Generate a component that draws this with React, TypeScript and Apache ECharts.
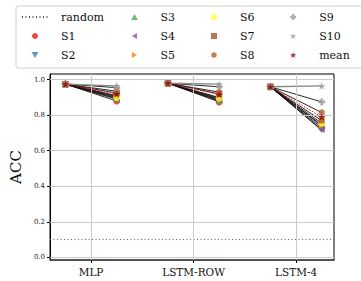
import React, { useEffect, useRef } from 'react';
import * as echarts from 'echarts';

const models = ['MLP', 'LSTM-ROW', 'LSTM-4'];
const yTicks = [0, 0.2, 0.4, 0.6, 0.8, 1.0];
const subjects = ['S1', 'S2', 'S3', 'S4', 'S5', 'S6', 'S7', 'S8', 'S9', 'S10'];
const randomLevel = 0.1;

// accuracy before (left point) per subject, per model
const accBefore = [
  [0.975, 0.98, 0.96],
  [0.976, 0.981, 0.961],
  [0.975, 0.98, 0.96],
  [0.974, 0.979, 0.959],
  [0.975, 0.98, 0.96],
  [0.976, 0.98, 0.961],
  [0.975, 0.981, 0.96],
  [0.975, 0.98, 0.96],
  [0.976, 0.98, 0.96],
  [0.975, 0.98, 0.96],
];
// accuracy after (right point) per subject, per model
const accAfter = [
  [0.88, 0.875, 0.73],
  [0.91, 0.89, 0.715],
  [0.89, 0.88, 0.74],
  [0.895, 0.885, 0.72],
  [0.905, 0.9, 0.745],
  [0.9, 0.895, 0.755],
  [0.925, 0.92, 0.77],
  [0.935, 0.93, 0.815],
  [0.955, 0.96, 0.875],
  [0.965, 0.975, 0.965],
];
const meanBefore = [0.975, 0.98, 0.96];
const meanAfter = [0.918, 0.916, 0.79];

const colors = ['#e41a1c', '#377eb8', '#4daf4a', '#984ea3', '#ff7f00', '#ffff33', '#a65628', '#b0602c', '#999999', '#999999'];
const STAR = 'path://M0,-1 L0.2245,-0.309 L0.951,-0.309 L0.363,0.118 L0.588,0.809 L0,0.382 L-0.588,0.809 L-0.363,0.118 L-0.951,-0.309 L-0.2245,-0.309 Z';
const HEX = 'path://M0,-1 L0.866,-0.5 L0.866,0.5 L0,1 L-0.866,0.5 L-0.866,-0.5 Z';
const PLUS = 'path://M-0.4,-1 L0.4,-1 L0.4,-0.4 L1,-0.4 L1,0.4 L0.4,0.4 L0.4,1 L-0.4,1 L-0.4,0.4 L-1,0.4 L-1,-0.4 L-0.4,-0.4 Z';
const TRI_UP = 'path://M0,-1 L0.866,0.5 L-0.866,0.5 Z';
const TRI_DOWN = 'path://M0,1 L0.866,-0.5 L-0.866,-0.5 Z';
const TRI_LEFT = 'path://M-1,0 L0.5,-0.866 L0.5,0.866 Z';
const TRI_RIGHT = 'path://M1,0 L-0.5,-0.866 L-0.5,0.866 Z';
const SQ = 'path://M-1,-1 L1,-1 L1,1 L-1,1 Z';
const symbols = ['circle', TRI_DOWN, TRI_UP, TRI_LEFT, TRI_RIGHT, 'circle', SQ, HEX, PLUS, STAR];
const sizes = [7, 7, 7, 7, 7, 7, 6, 7, 7, 8];

const FONT = 'DejaVu Serif';

export default function App() {
  const ref = useRef<HTMLDivElement>(null);
  useEffect(() => {
    if (!ref.current) return;
    const chart = echarts.init(ref.current, null, { renderer: 'svg' });
    const off = 0.25;
    const series: any[] = [];
    // grid lines
    series.push({
      type: 'line',
      name: '_grid',
      data: [],
      silent: true,
      z: 0,
      markLine: {
        silent: true,
        symbol: 'none',
        label: { show: false },
        lineStyle: { color: '#cacaca', width: 1, type: 'solid' },
        data: [
          ...models.map((_, i) => ({ xAxis: i })),
          ...yTicks.map((v) => ({ yAxis: v })),
        ],
      },
    });
    series.push({
      type: 'line',
      name: 'random',
      data: [[-0.4, randomLevel], [2.37, randomLevel]],
      symbol: 'none',
      itemStyle: { color: 'rgba(0,0,0,0)' },
      lineStyle: { color: '#555', width: 1, type: [1, 2.5] },
      z: 1,
    });
    subjects.forEach((s, si) => {
      models.forEach((_, mi) => {
        series.push({
          type: 'line',
          name: `_line_${s}_${mi}`,
          data: [[mi - off, accBefore[si][mi]], [mi + off, accAfter[si][mi]]],
          symbol: 'none',
          lineStyle: { color: si === 9 ? '#888' : '#111', width: si === 9 ? 1.4 : 0.9 },
          z: 2,
        });
      });
    });
    models.forEach((_, mi) => {
      series.push({
        type: 'line',
        name: `_line_mean_${mi}`,
        data: [[mi - off, meanBefore[mi]], [mi + off, meanAfter[mi]]],
        symbol: 'none',
        lineStyle: { color: '#ff0000', width: 1, type: [1.5, 1.5] },
        z: 3,
      });
    });
    subjects.forEach((s, si) => {
      const pts: number[][] = [];
      models.forEach((_, mi) => {
        pts.push([mi - off, accBefore[si][mi]]);
        pts.push([mi + off, accAfter[si][mi]]);
      });
      series.push({
        type: 'scatter',
        name: s,
        data: pts,
        symbol: symbols[si],
        symbolSize: sizes[si],
        symbolKeepAspect: true,
        itemStyle: { color: colors[si] },
        z: 4,
      });
    });
    const meanPts: number[][] = [];
    models.forEach((_, mi) => {
      meanPts.push([mi - off, meanBefore[mi]]);
      meanPts.push([mi + off, meanAfter[mi]]);
    });
    series.push({
      type: 'scatter',
      name: 'mean',
      data: meanPts,
      symbol: STAR,
      symbolSize: 8,
      symbolKeepAspect: true,
      itemStyle: { color: '#8b0000' },
      z: 5,
    });

    const legendCols = [
      ['random', 'S1', 'S2'],
      ['S3', 'S4', 'S5'],
      ['S6', 'S7', 'S8'],
      ['S9', 'S10', 'mean'],
    ];
    const legendLefts = [21, 131, 211, 290];
    const legends = legendCols.map((col, ci) => ({
      orient: 'vertical',
      left: legendLefts[ci],
      top: 11,
      padding: 0,
      itemWidth: 26,
      itemHeight: 6,
      itemGap: 7,
      symbolKeepAspect: true,
      selectedMode: false,
      data: col.map((n) =>
        n === 'random' ? { name: n, itemStyle: { color: 'rgba(0,0,0,0)', opacity: 0 } } : { name: n }
      ),
      textStyle: { fontFamily: FONT, fontSize: 11, color: '#111', lineHeight: 12, padding: [0, 0, 0, 8] },
    }));

    chart.setOption({
      animation: false,
      backgroundColor: '#fff',
      legend: legends,
      graphic: [
        {
          type: 'rect',
          shape: { x: 16, y: 6, width: 360, height: 62, r: 2 },
          style: { fill: 'none', stroke: '#d0d0d0', lineWidth: 1 },
          z: -1,
        },
      ],
      grid: {
        left: 47,
        right: 27,
        top: 74,
        bottom: 21,
        show: true,
        borderColor: '#000',
        borderWidth: 1,
        backgroundColor: 'transparent',
      },
      xAxis: {
        type: 'value',
        min: -0.4,
        max: 2.37,
        splitLine: { show: false },
        axisLine: { show: true, onZero: false, lineStyle: { color: '#444', width: 1.5 } },
        axisTick: { show: true, customValues: [0, 1, 2], length: 3, lineStyle: { color: '#000' } },
        axisLabel: {
          customValues: [0, 1, 2],
          formatter: (v: number) => models[Math.round(v)] ?? '',
          fontFamily: FONT,
          fontSize: 10.5,
          color: '#111',
          margin: 6,
        },
      },
      yAxis: {
        type: 'value',
        min: -0.015,
        max: 1.032,
        name: 'ACC',
        nameLocation: 'middle',
        nameGap: 26,
        nameTextStyle: { fontFamily: FONT, fontSize: 15, color: '#111' },
        splitLine: { show: false },
        axisLine: { show: true, onZero: false, lineStyle: { color: '#000', width: 1 } },
        axisTick: { show: true, customValues: yTicks, length: 3, lineStyle: { color: '#000' } },
        axisLabel: {
          customValues: yTicks,
          formatter: (v: number) => v.toFixed(1),
          fontFamily: FONT,
          fontSize: 7,
          color: '#222',
          margin: 5,
        },
      },
      series,
    });
    return () => chart.dispose();
  }, []);
  return <div ref={ref} style={{ width: 361, height: 281, position: 'absolute', left: 0, top: 0 }} />;
}
